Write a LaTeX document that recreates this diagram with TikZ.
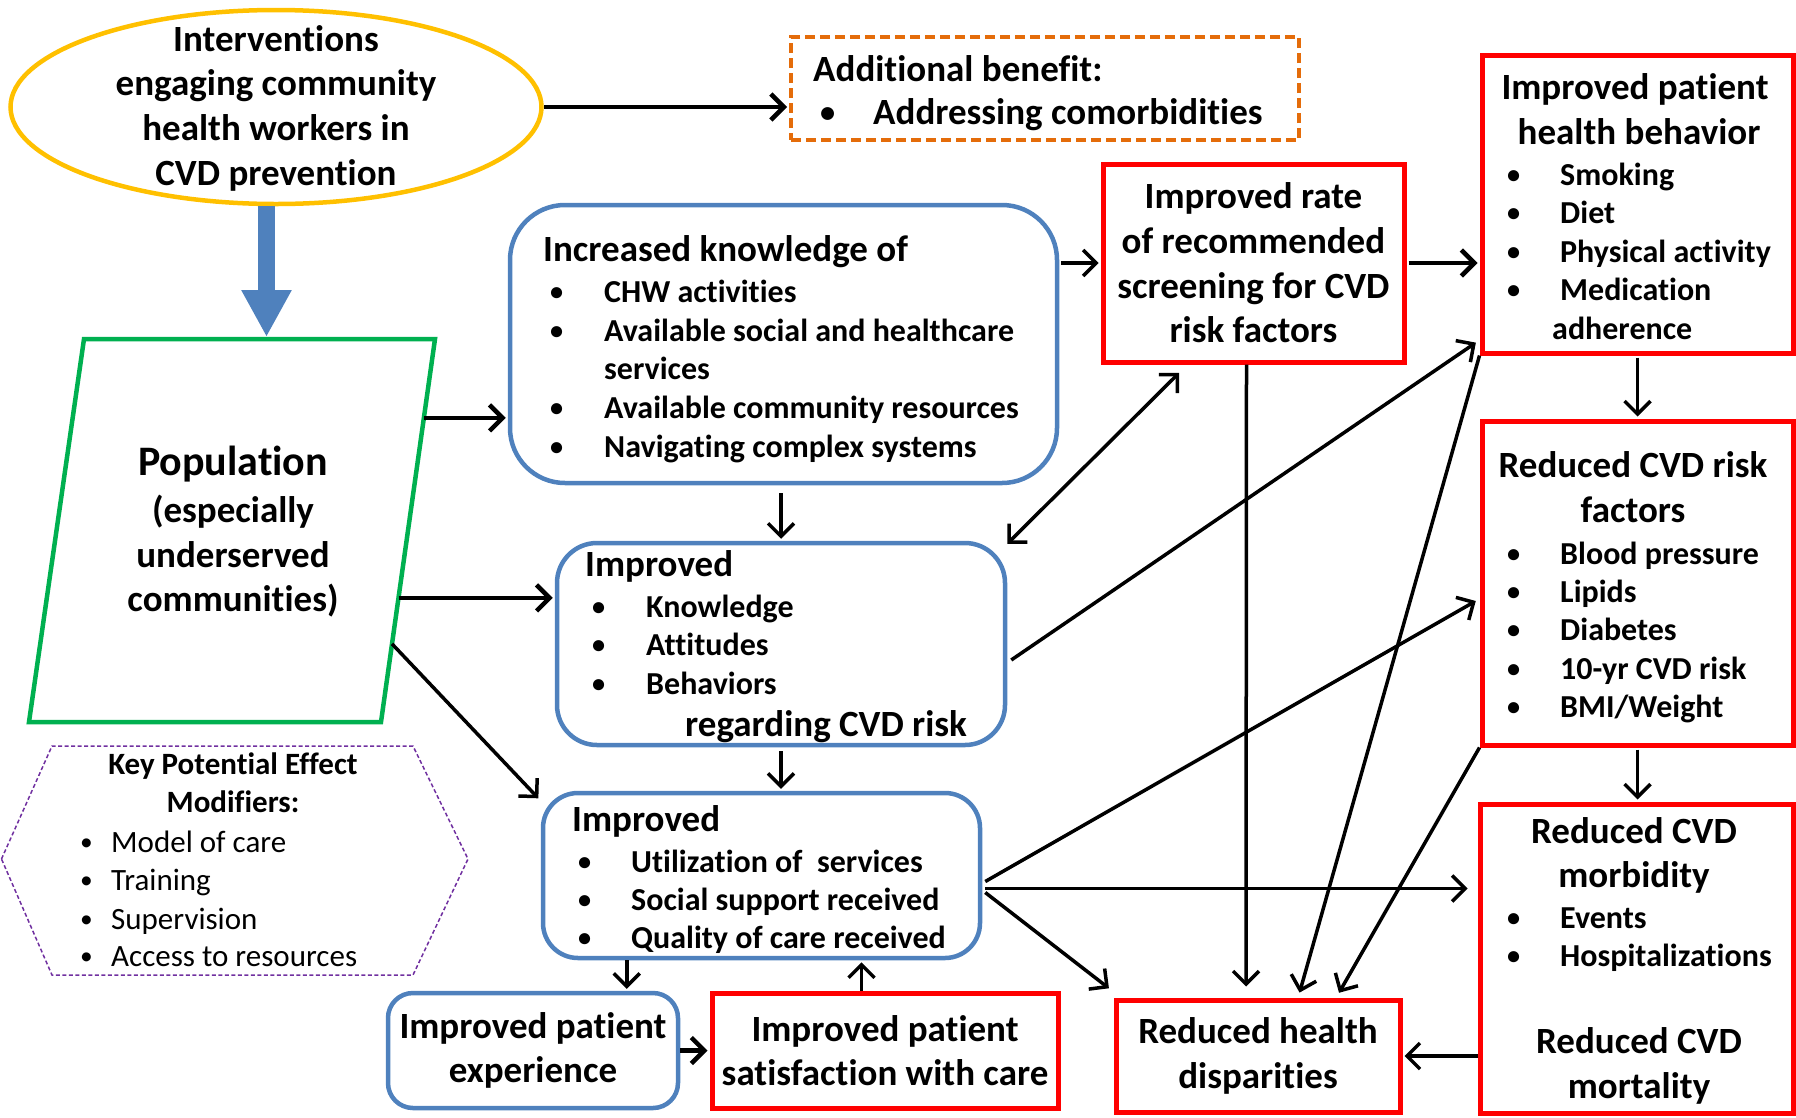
\documentclass[tikz,border=0pt]{standalone}
\usepackage{fontspec}
\usepackage{graphicx}
\setmainfont{Carlito}[Ligatures=NoCommon]
\usetikzlibrary{arrows.meta,calc,shapes.geometric}
\definecolor{cred}{RGB}{255,0,0}
\definecolor{cblue}{RGB}{79,129,189}
\definecolor{cgreen}{RGB}{0,176,80}
\definecolor{corange}{RGB}{228,108,10}
\definecolor{cgold}{RGB}{255,192,0}
\definecolor{cpurple}{RGB}{112,48,160}
\newcommand{\blt}[1][53pt]{\makebox[#1][l]{\raisebox{0.06em}{\scalebox{0.82}{•}}}}
\begin{document}
\begin{tikzpicture}[x=1pt,y=-1pt,
  >={Straight Barb[length=13pt,width=26pt]},
  lbl/.style={font=\bfseries\fontsize{37}{44.7}\selectfont, inner sep=0pt},
  hd/.style={lbl, anchor=mid west, yshift=-9pt},
  hdc/.style={lbl, anchor=mid, yshift=-9pt},
  itm/.style={font=\bfseries\fontsize{32}{38.6}\selectfont, inner sep=0pt, anchor=mid west, yshift=-9pt},
  hexh/.style={font=\bfseries\fontsize{31}{38}\selectfont, inner sep=0pt, anchor=mid, yshift=-7pt},
  hexi/.style={font=\fontsize{31}{38}\selectfont, inner sep=0pt, anchor=mid west, yshift=-8pt},
  redbox/.style={draw=cred, line width=5pt, rectangle, inner sep=0pt, align=center, lbl},
  bluebox/.style={draw=cblue, line width=4.5pt, rectangle, rounded corners=#1, inner sep=0pt, align=center, lbl},
  bluebox/.default=30pt,
  arr/.style={line width=3.5pt, ->, shorten >=2pt},
  arrt/.style={line width=4.5pt, ->, shorten >=2pt}
]
\useasboundingbox (0,0) rectangle (1796,1117);

% ---------- shapes ----------
\node[ellipse, draw=cgold, line width=4.5pt, minimum width=531pt, minimum height=194pt,
      inner sep=0pt] (ell) at (276,107) {};
\node[lbl, align=center] (ellT) at (276,108)
      {Interventions\\engaging community\\health workers in\\CVD prevention};

\node[draw=corange, line width=4pt, dash pattern=on 10pt off 5pt, rectangle,
      minimum width=508pt, minimum height=103pt, inner sep=0pt] (addl) at (1045,88.5) {};
\node[hd] (addlH) at (813,70) {Additional benefit:};
\node[hd] (addlI) at (820,113) {\blt[53pt]Addressing comorbidities};

% population parallelogram
\coordinate (popTL) at (84,339);
\coordinate (popTR) at (435,339);
\coordinate (popBR) at (381,722);
\coordinate (popBL) at (29,722);
\coordinate (popTM) at (266.5,337);
\draw[cgreen, line width=4.5pt, line join=miter] (popTL) -- (popTR) -- (popBR) -- (popBL) -- cycle;
\node[lbl, align=center] (pop) at (233,532)
  {{\fontsize{42}{48}\selectfont Population}\\[2pt](especially\\underserved\\communities)};

% knowledge box
\node[bluebox=55pt, minimum width=547pt, minimum height=278pt] (know) at (783.5,344) {};
\node[hd] (knowH) at (543,250) {Increased knowledge of};
\node[itm] (know1) at (550,291) {\blt[54pt]CHW activities};
\node[itm] (know2) at (550,330) {\blt[54pt]Available social and healthcare};
\node[itm] (know3) at (604,368) {services};
\node[itm] (know4) at (550,407) {\blt[54pt]Available community resources};
\node[itm] (know5) at (550,446) {\blt[54pt]Navigating complex systems};

% improved 1
\node[bluebox=40pt, minimum width=448pt, minimum height=202pt] (imp1) at (781,644) {};
\node[hd] (imp1H) at (585,565) {Improved};
\node[itm] (imp1a) at (592,606) {\blt[54pt]Knowledge};
\node[itm] (imp1b) at (592,644) {\blt[54pt]Attitudes};
\node[itm] (imp1c) at (592,683) {\blt[54pt]Behaviors};
\node[hd] (imp1R) at (685,725) {regarding CVD risk};

% improved 2
\node[bluebox=35pt, minimum width=437pt, minimum height=165pt] (imp2) at (761.5,875.5) {};
\node[hd] (imp2H) at (572,820) {Improved};
\node[itm] (imp2a) at (578,861) {\blt[53pt]Utilization of \ services};
\node[itm] (imp2b) at (578,899) {\blt[53pt]Social support received};
\node[itm] (imp2c) at (578,937) {\blt[53pt]Quality of care received};

% bottom boxes
\node[bluebox=25pt, minimum width=290pt, minimum height=115pt] (exp) at (533,1050.5)
  {Improved patient\\experience};
\node[redbox, minimum width=346pt, minimum height=115pt] (sat) at (885,1050.5)
  {Improved patient\\satisfaction with care};
\node[redbox, minimum width=284pt, minimum height=112pt] (disp) at (1258,1056)
  {Reduced health\\disparities};

% screening
\node[redbox, minimum width=301pt, minimum height=198pt] (rate) at (1253.5,263)
  {Improved rate\\of recommended\\screening for CVD\\risk factors};

% behavior
\node[redbox, minimum width=311pt, minimum height=298pt] (beh) at (1637.5,204) {};
\node[hdc] (behH1) at (1635,88) {Improved patient};
\node[hdc] (behH2) at (1639,133) {health behavior};
\node[itm] (beh1) at (1507,174) {\blt[53pt]Smoking};
\node[itm] (beh2) at (1507,212) {\blt[53pt]Diet};
\node[itm] (beh3) at (1507,251) {\blt[53pt]Physical activity};
\node[itm] (beh4) at (1507,289) {\blt[53pt]Medication};
\node[itm] (beh5) at (1552,328) {adherence};

% risk factors
\node[redbox, minimum width=311pt, minimum height=324pt] (risk) at (1637.5,583) {};
\node[hdc] (riskH1) at (1633,466) {Reduced CVD risk};
\node[hdc] (riskH2) at (1633,511) {factors};
\node[itm] (risk1) at (1507,553) {\blt[53pt]Blood pressure};
\node[itm] (risk2) at (1507,591) {\blt[53pt]Lipids};
\node[itm] (risk3) at (1507,629) {\blt[53pt]Diabetes};
\node[itm] (risk4) at (1507,668) {\blt[53pt]10-yr CVD risk};
\node[itm] (risk5) at (1507,706) {\blt[53pt]BMI/Weight};

% morbidity / mortality
\node[redbox, minimum width=313pt, minimum height=309pt] (morb) at (1636.5,958.5) {};
\node[hdc] (morbH1) at (1634,832) {Reduced CVD};
\node[hdc] (morbH2) at (1634,876) {morbidity};
\node[itm] (morb1) at (1507,917) {\blt[53pt]Events};
\node[itm] (morb2) at (1507,955) {\blt[53pt]Hospitalizations};
\node[hdc] (mortH1) at (1639,1042) {Reduced CVD};
\node[hdc] (mortH2) at (1639,1087) {mortality};

% hexagon of effect modifiers
\draw[cpurple, line width=1.5pt, dash pattern=on 4pt off 2.5pt]
  (1.5,859) -- (52,746) -- (413,746) -- (468,859) -- (413,975) -- (52,975) -- cycle;
\node[hexh] (hexH1) at (233,765) {Key Potential Effect};
\node[hexh] (hexH2) at (233,803) {Modifiers:};
\node[hexi] (hex1) at (80,842) {\blt[31pt]Model of care};
\node[hexi] (hex2) at (80,880) {\blt[31pt]Training};
\node[hexi] (hex3) at (80,919) {\blt[31pt]Supervision};
\node[hexi] (hex4) at (80,956) {\blt[31pt]Access to resources};

% ---------- connectors ----------
% big blue arrow
\draw[cblue, line width=17pt, -{Triangle[length=47pt,width=47pt]}]
  (ell.south -| popTM) -- (popTM);

\draw[arrt] (ell.east) -- (ell.east -| addl.west);

\coordinate (p1) at ($(popTR)!0.206!(popBR)$);
\coordinate (p2) at ($(popTR)!0.676!(popBR)$);
\coordinate (p3) at ($(popTR)!0.796!(popBR)$);
\draw[arrt] (p1) -- (p1 -| know.west);
\draw[arrt] (p2) -- (p2 -| imp1.west);
\draw[arr] (p3) -- ($(imp2.north west)+(-1,9)$);

\draw[arr, shorten <=8pt] (know.south -| imp1.north) -- (imp1.north);
\draw[arr, shorten <=4pt] (imp1.south) -- (imp1.south |- imp2.north);

\draw[arr, shorten <=2pt] (rate.west -| know.east) -- (rate.west);
\draw[arrt, shorten <=2pt] (rate.east) -- (rate.east -| beh.west);

\draw[arr, <->] ($(imp1.north east)+(0,3)$) -- ($(rate.south)+(-73,7)$);
\draw[arr] ($(imp1.east)+(4,16)$) -- ($(beh.south west)+(-2,-14)$);
\draw[arr] ($(imp2.east)+(3,6)$) -- ($(risk.west)+(-2,17)$);
\coordinate (m12) at ($(imp2.east)+(3,13)$);
\draw[arr, shorten >=10pt] (m12) -- (m12 -| morb.west);
\draw[arr] ($(imp2.east)+(3,17)$) -- ($(disp.north west)+(-3,-8)$);

\draw[arr] ($(rate.south)+(-7,0)$) -- ($(disp.north)+(-12,-9)$);
\draw[arr] (beh.south west) -- ($(disp.north)+(41,-3)$);
\draw[arr] (risk.south west) -- ($(disp.north)+(80,-3)$);

\draw[arr, shorten <=2pt] (beh.south) -- (beh.south |- risk.north);
\draw[arr, shorten <=2pt] (risk.south) -- (risk.south |- morb.north);
\draw[arr] (disp.east -| morb.west) -- (disp.east);

\coordinate (c20) at ($(imp2.south west)+(86,0)$);
\draw[arr] (c20) -- (c20 |- exp.north);
\draw[arrt] (exp.east) -- (sat.west);
\coordinate (c22) at ($(sat.north west)+(152,0)$);
\draw[arr] (c22) -- (c22 |- imp2.south);
\end{tikzpicture}
\end{document}
